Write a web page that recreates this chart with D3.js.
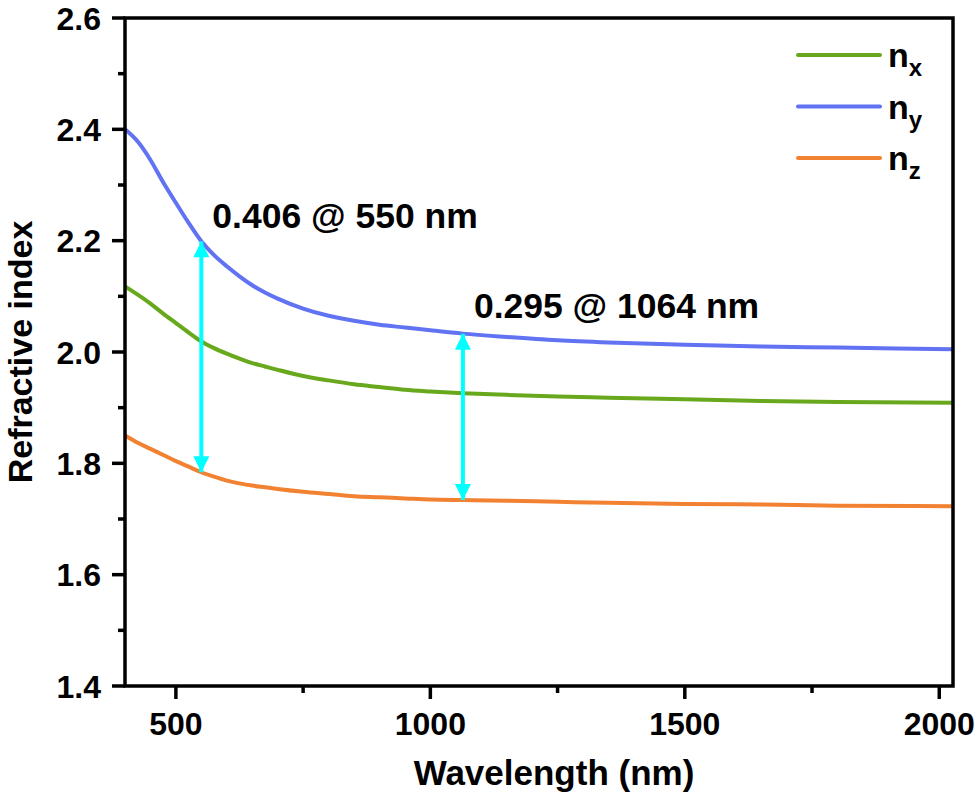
<!DOCTYPE html>
<html>
<head>
<meta charset="utf-8">
<script src="https://cdn.jsdelivr.net/npm/d3@7"></script>
<style>
  body { margin: 0; background: #fff; }
  svg text { font-family: "Liberation Sans", Arial, sans-serif; font-weight: bold; fill: #000; }
</style>
</head>
<body>
<div id="chart"></div>
<script>
// wavelength grid (nm) and refractive indices
const wavelengths = [400, 425, 450, 475, 500, 525, 550, 575, 600, 625, 650, 675, 700, 750, 800, 850, 900, 950, 1000, 1064, 1150, 1250, 1350, 1500, 1650, 1800, 2027];
const nx = [2.118, 2.103, 2.087, 2.069, 2.052, 2.035, 2.019, 2.007, 1.997, 1.988, 1.980, 1.974, 1.968, 1.957, 1.949, 1.942, 1.937, 1.932, 1.929, 1.926, 1.923, 1.920, 1.918, 1.915, 1.912, 1.910, 1.909];
const ny = [2.400, 2.378, 2.345, 2.305, 2.268, 2.232, 2.199, 2.174, 2.154, 2.136, 2.120, 2.107, 2.096, 2.078, 2.065, 2.056, 2.049, 2.044, 2.039, 2.033, 2.027, 2.021, 2.017, 2.013, 2.010, 2.008, 2.005];
const nz = [1.850, 1.837, 1.826, 1.815, 1.804, 1.794, 1.784, 1.776, 1.769, 1.764, 1.760, 1.757, 1.754, 1.749, 1.745, 1.741, 1.739, 1.737, 1.735, 1.734, 1.733, 1.731, 1.729, 1.727, 1.726, 1.724, 1.723];

const seriesNames = ["x", "y", "z"];
const seriesColors = ["#68a81c", "#6172f3", "#f28232"];

const xTicks = [500, 1000, 1500, 2000];
const xMinorTicks = [750, 1250, 1750];
const yTicks = [1.4, 1.6, 1.8, 2.0, 2.2, 2.4, 2.6];
const yMinorTicks = [1.5, 1.7, 1.9, 2.1, 2.3, 2.5];

// birefringence arrows (between ny and nz)
const annotWavelengths = [550, 1064];
const annotLabels = ["0.406 @ 550 nm", "0.295 @ 1064 nm"];
const annotLabelY = [2.222, 2.061];

const width = 980, height = 796;
const margin = { top: 18, right: 27, bottom: 110, left: 125 };

const svg = d3.select("#chart").append("svg")
    .attr("width", width)
    .attr("height", height);

const x = d3.scaleLinear().domain([400, 2027]).range([margin.left, width - margin.right]);
const y = d3.scaleLinear().domain([1.4, 2.6]).range([height - margin.bottom, margin.top]);

// curves
const series = [nx, ny, nz];
const line = d3.line()
    .x((d, i) => x(wavelengths[i]))
    .y(d => y(d))
    .curve(d3.curveMonotoneX);

svg.append("g")
    .selectAll("path")
    .data(series)
    .enter().append("path")
    .attr("d", d => line(d))
    .attr("fill", "none")
    .attr("stroke", (d, i) => seriesColors[i])
    .attr("stroke-width", 4)
    .attr("stroke-linejoin", "round");

// arrows
const defs = svg.append("defs");
defs.append("marker")
    .attr("id", "head")
    .attr("viewBox", "0 0 10 10")
    .attr("refX", 10).attr("refY", 5)
    .attr("markerUnits", "userSpaceOnUse")
    .attr("markerWidth", 23).attr("markerHeight", 16)
    .attr("orient", "auto-start-reverse")
    .append("path")
    .attr("d", "M0,0 L10,5 L0,10 Z")
    .attr("fill", "#00ffff");

annotWavelengths.forEach((w, k) => {
    const i = wavelengths.indexOf(w);
    svg.append("line")
        .attr("x1", x(w)).attr("x2", x(w))
        .attr("y1", y(ny[i])).attr("y2", y(nz[i]))
        .attr("stroke", "#00ffff")
        .attr("stroke-width", 4)
        .attr("marker-start", "url(#head)")
        .attr("marker-end", "url(#head)");
    svg.append("text")
        .attr("x", x(w) + 11)
        .attr("y", y(annotLabelY[k]))
        .attr("font-size", 35.5)
        .text(annotLabels[k]);
});

// frame
const x0 = x.range()[0], x1 = x.range()[1], yb = y.range()[0], yt = y.range()[1];
svg.append("rect")
    .attr("x", x0).attr("y", yt)
    .attr("width", x1 - x0).attr("height", yb - yt)
    .attr("fill", "none")
    .attr("stroke", "#000")
    .attr("stroke-width", 3.5);

// bottom axis
const xAxis = svg.append("g").attr("transform", `translate(0,${yb})`);
xAxis.selectAll(".major").data(xTicks).enter().append("line")
    .attr("x1", d => x(d)).attr("x2", d => x(d))
    .attr("y1", 0).attr("y2", 13)
    .attr("stroke", "#000").attr("stroke-width", 3.5);
xAxis.selectAll(".minor").data(xMinorTicks).enter().append("line")
    .attr("x1", d => x(d)).attr("x2", d => x(d))
    .attr("y1", 0).attr("y2", 7)
    .attr("stroke", "#000").attr("stroke-width", 3.5);
xAxis.selectAll("text").data(xTicks).enter().append("text")
    .attr("x", d => x(d))
    .attr("y", 49)
    .attr("text-anchor", "middle")
    .attr("font-size", 32)
    .text(d => d);

// left axis
const yAxis = svg.append("g").attr("transform", `translate(${x0},0)`);
yAxis.selectAll(".major").data(yTicks).enter().append("line")
    .attr("x1", -13).attr("x2", 0)
    .attr("y1", d => y(d)).attr("y2", d => y(d))
    .attr("stroke", "#000").attr("stroke-width", 3.5);
yAxis.selectAll(".minor").data(yMinorTicks).enter().append("line")
    .attr("x1", -7).attr("x2", 0)
    .attr("y1", d => y(d)).attr("y2", d => y(d))
    .attr("stroke", "#000").attr("stroke-width", 3.5);
yAxis.selectAll("text").data(yTicks).enter().append("text")
    .attr("x", -24)
    .attr("y", d => y(d))
    .attr("dy", "0.36em")
    .attr("text-anchor", "end")
    .attr("font-size", 32)
    .text(d => d.toFixed(1));

// axis titles
svg.append("text")
    .attr("x", 554).attr("y", 785)
    .attr("text-anchor", "middle")
    .attr("font-size", 35)
    .text("Wavelength (nm)");

svg.append("text")
    .attr("transform", `translate(32,${(yt + yb) / 2}) rotate(-90)`)
    .attr("text-anchor", "middle")
    .attr("font-size", 34)
    .text("Refractive index");

// legend
const legend = svg.append("g");
seriesNames.forEach((s, i) => {
    const ly = 55 + i * 51.5;
    legend.append("line")
        .attr("x1", 798).attr("x2", 880)
        .attr("y1", ly).attr("y2", ly)
        .attr("stroke", seriesColors[i])
        .attr("stroke-width", 4)
        .attr("stroke-linecap", "round");
    const t = legend.append("text")
        .attr("x", 888).attr("y", ly + 12)
        .attr("font-size", 34);
    t.append("tspan").text("n");
    t.append("tspan")
        .attr("font-size", 24)
        .attr("dy", 9)
        .text(s);
});
</script>
</body>
</html>
